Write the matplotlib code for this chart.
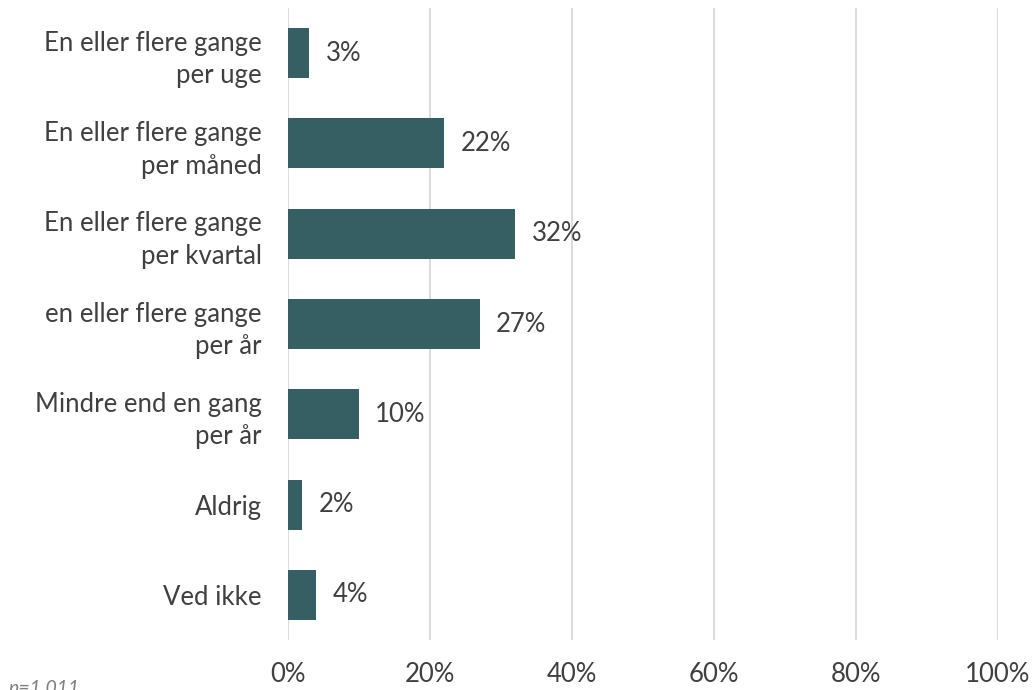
import matplotlib.pyplot as plt
from matplotlib.ticker import FuncFormatter

categories = ['En eller flere gange\nper uge',
              'En eller flere gange\nper måned',
              'En eller flere gange\nper kvartal',
              'en eller flere gange\nper år',
              'Mindre end en gang\nper år',
              'Aldrig',
              'Ved ikke']
values = [3, 22, 32, 27, 10, 2, 4]
xticks = [0, 20, 40, 60, 80, 100]

plt.rcParams['font.family'] = ['Lato', 'DejaVu Sans']
txt = '#404040'
fs = 18.5

fig = plt.figure(figsize=(10.33, 6.90), dpi=100)
ax = fig.add_axes([288 / 1033, 1 - 640 / 690, 710 / 1033, 632 / 690])

pos = list(range(len(categories)))
ax.barh(pos, values, height=0.553, color='#365F64', zorder=3)
for p, v in zip(pos, values):
    ax.text(v + 2.3, p, f'{v}%', va='center', ha='left', fontsize=fs, color=txt)

ax.set_xlim(0, 100)
ax.set_ylim(len(categories) - 0.5, -0.5)
ax.set_xticks(xticks)
ax.xaxis.set_major_formatter(FuncFormatter(lambda x, _: f'{x:.0f}%'))
ax.set_yticks(pos)
ax.set_yticklabels(categories, fontsize=fs, color=txt, multialignment='right',
                   linespacing=1.38)
ax.tick_params(axis='y', length=0, pad=19)
ax.tick_params(axis='x', length=0, pad=16, labelsize=fs, labelcolor=txt)
ax.grid(axis='x', color='#D9D9D9', linewidth=1.3, zorder=0)
for s in ax.spines.values():
    s.set_visible(False)

fig.text(8 / 1033, 1 - 697 / 690, 'n=1.011', fontsize=14, style='italic',
         color='#7F7F7F', ha='left', va='bottom')

fig.savefig('out.png', dpi=100)
